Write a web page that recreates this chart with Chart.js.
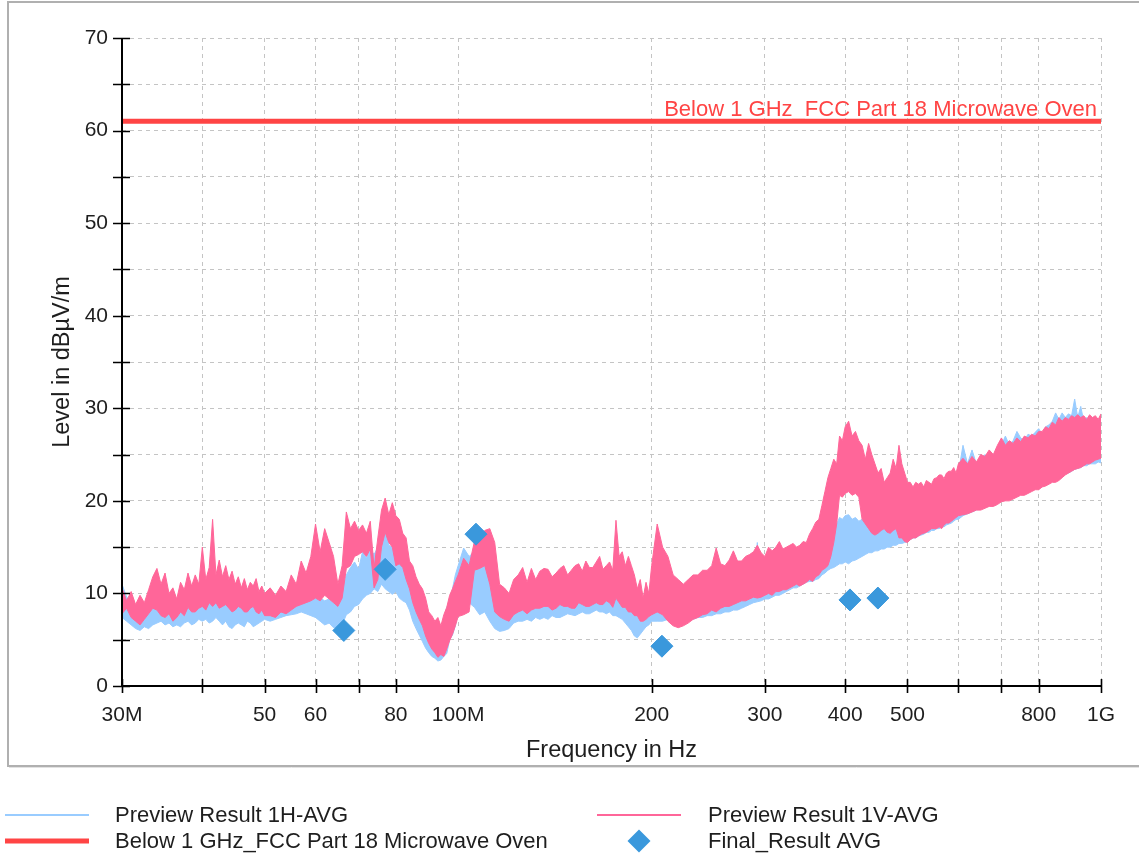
<!DOCTYPE html>
<html>
<head>
<meta charset="utf-8">
<title>Level in dBµV/m</title>
<script src="https://cdn.jsdelivr.net/npm/chart.js@4.4.1/dist/chart.umd.min.js"></script>
<style>
    html, body { margin: 0; padding: 0; background: #fff; }
    #chart { display: block; }
</style>
</head>
<body>
<canvas id="chart" width="1139" height="856"></canvas>
<script>
/* ============================================
   DATA
   ============================================ */

// sweep frequencies in MHz (shared by both preview traces)
const freqMHz = [
    30, 30.5, 31, 31.5, 32, 32.5, 33, 33.5, 34, 34.5, 35, 35.5, 36, 36.5, 37, 37.5, 38, 38.5, 39, 39.5,
    40, 40.5, 41, 41.5, 42, 42.5, 43, 43.5, 44, 44.5, 45, 45.5, 46, 46.5, 47, 47.5, 48, 48.5, 49, 49.5, 50,
    51, 52, 53, 54, 55, 56, 57, 58, 59, 60, 61, 62, 63, 64, 65, 66, 67, 68, 69, 70,
    71, 72, 73, 74, 75, 76, 77, 78, 79, 80, 81, 82, 83, 84, 85, 86, 87, 88, 89, 90,
    91, 92, 93, 94, 95, 96, 97, 98, 99, 100,
    102, 104, 106, 108, 110, 112, 114, 116, 118, 120, 122, 124, 126, 128, 130, 132, 134, 136, 138, 140,
    142, 144, 146, 148, 150, 152, 154, 156, 158, 160, 162, 164, 166, 168, 170, 172, 174, 176, 178, 180,
    182, 184, 186, 188, 190, 192, 194, 196, 198, 200,
    204, 208, 212, 216, 220, 224, 228, 232, 236, 240, 244, 248, 252, 256, 260, 264, 268, 272, 276, 280,
    284, 288, 292, 296, 300, 304, 308, 312, 316, 320, 324, 328, 332, 336, 340, 344, 348, 352, 356, 360,
    364, 368, 372, 376, 380, 384, 388, 392, 396, 400,
    405, 410, 415, 420, 425, 430, 435, 440, 445, 450, 455, 460, 465, 470, 475, 480, 485, 490, 495, 500,
    505, 510, 515, 520, 525, 530, 535, 540, 545, 550, 555, 560, 565, 570, 575, 580, 585, 590, 595, 600,
    610, 620, 630, 640, 650, 660, 670, 680, 690, 700, 710, 720, 730, 740, 750, 760, 770, 780, 790, 800,
    810, 820, 830, 840, 850, 860, 870, 880, 890, 900, 910, 920, 930, 940, 950, 960, 970, 980, 990, 1000
];

// Preview Result 1H-AVG, upper / lower edge of the noise band (dBµV/m)
const level1HHigh = [
    11.0, 9.6, 9.2, 8.6, 8.8, 8.4, 9.0, 9.4, 9.8, 9.2, 9.6, 9.0, 9.0, 9.4, 9.8, 10.2, 10.4, 9.8, 10.0, 9.6,
    10.6, 10.0, 10.4, 9.8, 10.6, 10.0, 10.2, 9.6, 9.8, 9.4, 9.6, 9.8, 9.2, 9.6, 9.4, 9.0, 9.2, 8.8, 9.2, 9.0, 8.8,
    9.1, 8.8, 9.0, 9.2, 9.6, 10.2, 10.6, 10.0, 10.4, 9.8, 9.5, 9.2, 9.4, 9.0, 9.2, 10.5, 12.0, 12.8, 13.4, 12.6,
    14.5, 13.8, 14.8, 14.2, 15.0, 14.6, 17.7, 15.2, 15.0, 14.1, 14.0, 13.2, 13.0, 12.0, 11.5, 10.5, 9.5, 8.5, 8.0, 7.0,
    6.5, 6.0, 5.5, 5.8, 7.0, 8.5, 9.0, 10.5, 12.0, 13.0,
    14.9, 14.0, 14.5, 13.8, 14.1, 13.0, 12.0, 9.5, 9.0, 8.8, 9.2, 9.0, 9.4, 9.6, 9.9, 9.4, 9.6, 9.8, 9.4, 9.9,
    9.8, 10.0, 9.6, 10.2, 10.6, 10.0, 10.2, 10.6, 10.4, 10.0, 10.2, 10.6, 10.4, 10.2, 10.6, 10.4, 10.2, 10.8, 10.6, 11.0,
    11.3, 10.5, 10.8, 9.5, 9.0, 9.4, 9.0, 9.6, 10.0, 11.0,
    12.7, 11.5, 12.4, 10.0, 9.6, 9.4, 9.2, 9.4, 9.6, 9.9, 9.6, 9.8, 10.0, 9.8, 10.0, 10.2, 10.4, 10.2, 10.5, 10.8,
    10.8, 11.0, 15.5, 11.0, 11.3, 11.2, 11.2, 11.5, 11.8, 11.6, 12.0, 12.2, 12.2, 12.4, 12.4, 12.6, 12.7, 13.0, 13.0, 13.4,
    13.4, 14.5, 15.5, 16.0, 16.5, 17.5, 17.5, 18.2, 18.0, 18.4,
    18.5, 18.0, 18.2, 17.8, 18.0, 17.6, 18.5, 18.0, 17.8, 18.0, 18.2, 18.0, 18.4, 18.0, 18.5, 18.2, 18.6, 18.0, 19.0, 19.5,
    19.8, 20.0, 20.5, 20.6, 21.0, 20.8, 21.0, 20.8, 21.2, 21.5, 21.5, 21.6, 22.0, 22.0, 22.2, 22.2, 22.4, 22.5, 22.8, 23.0,
    26.0, 24.0, 25.5, 24.0, 24.5, 25.0, 24.5, 25.0, 25.5, 26.0, 27.0, 26.0, 26.5, 27.5, 26.8, 26.5, 27.2, 27.0, 27.4, 27.8,
    27.2, 28.0, 28.2, 28.6, 29.5, 28.8, 29.5, 29.0, 29.4, 29.2, 31.0, 29.0, 30.2, 28.6, 29.0, 28.5, 29.0, 28.5, 28.8, 28.0
];
const level1HLow = [
    7.4, 7.0, 6.6, 6.2, 6.0, 6.4, 6.2, 6.6, 6.8, 7.0, 6.6, 6.8, 6.4, 6.6, 6.4, 6.8, 7.0, 6.6, 6.8, 7.2,
    7.0, 7.2, 6.8, 7.0, 7.4, 7.0, 6.6, 7.0, 6.4, 6.2, 6.6, 6.8, 6.6, 6.4, 7.0, 6.8, 6.4, 6.6, 6.8, 7.0, 7.2,
    7.0, 7.2, 7.4, 7.6, 7.7, 7.8, 8.0, 7.8, 7.6, 7.4, 7.0, 6.6, 6.8, 6.3, 6.4, 6.6, 7.7, 8.0, 8.6, 8.8,
    9.4, 9.8, 10.0, 10.5, 10.2, 11.0, 10.5, 10.2, 9.9, 10.2, 9.5, 9.2, 9.0, 8.2, 7.0, 6.2, 5.5, 4.8, 4.1, 3.6,
    3.2, 3.0, 2.7, 2.8, 3.2, 3.5, 5.0, 5.5, 6.5, 8.0,
    8.4, 9.0, 8.5, 7.7, 8.0, 7.0, 6.2, 5.9, 6.0, 6.2, 6.8, 7.0, 7.0, 7.2, 7.0, 7.4, 7.2, 7.4, 7.2, 7.6,
    7.4, 7.4, 7.6, 7.8, 7.7, 7.6, 7.8, 8.0, 7.8, 7.8, 8.0, 8.2, 8.0, 8.0, 7.8, 8.0, 7.6, 7.6, 7.4, 7.2,
    6.8, 6.4, 6.0, 5.4, 5.2, 5.6, 6.0, 6.4, 6.6, 7.0,
    7.0, 7.0, 7.2, 7.0, 7.0, 7.0, 7.2, 7.2, 7.4, 7.4, 7.6, 7.6, 7.8, 7.8, 8.0, 8.0, 8.2, 8.2, 8.4, 8.6,
    8.8, 9.0, 9.1, 9.2, 9.4, 9.4, 9.6, 9.8, 9.8, 10.0, 10.2, 10.4, 10.6, 10.6, 10.8, 11.0, 11.2, 11.3, 11.3, 11.5,
    11.6, 12.0, 12.2, 12.5, 12.7, 12.8, 13.0, 13.2, 13.2, 13.4,
    13.2, 13.5, 13.6, 13.8, 14.0, 14.2, 14.4, 14.4, 14.6, 14.6, 14.8, 14.8, 15.0, 15.0, 15.2, 15.2, 15.4, 15.4, 15.5, 15.6,
    15.8, 16.0, 16.0, 16.2, 16.3, 16.4, 16.6, 16.6, 16.8, 16.8, 17.0, 17.0, 17.2, 17.2, 17.4, 17.5, 17.6, 17.8, 18.0, 18.0,
    18.4, 18.6, 18.8, 19.0, 19.2, 19.4, 19.5, 19.6, 19.8, 20.0, 20.2, 20.3, 20.4, 20.6, 21.0, 21.0, 21.2, 21.2, 21.4, 21.5,
    21.6, 22.0, 22.0, 22.3, 22.4, 22.5, 22.8, 23.0, 23.0, 23.2, 23.4, 23.5, 23.6, 23.8, 23.8, 24.0, 24.0, 24.0, 24.2, 24.1
];

// Preview Result 1V-AVG, upper / lower edge of the noise band (dBµV/m)
const level1VHigh = [
    10.6, 9.2, 10.2, 8.8, 9.8, 9.0, 10.4, 11.8, 12.7, 11.0, 12.2, 10.0, 10.6, 9.4, 11.2, 10.4, 12.2, 10.8, 12.0, 11.0,
    15.0, 11.5, 12.8, 18.0, 12.0, 13.6, 11.8, 13.0, 11.5, 12.4, 11.0, 11.8, 10.6, 11.6, 10.4, 11.2, 10.8, 11.6, 10.2, 10.8, 10.0,
    10.6, 9.8, 10.8, 10.2, 12.0, 11.0, 13.5, 12.2, 14.0, 17.5, 14.5, 17.0, 15.5, 14.0, 11.0, 13.0, 18.8, 17.0, 17.8, 16.8,
    17.4, 16.5, 17.8, 12.7, 16.0, 19.0, 20.3, 18.5, 19.8, 18.4, 18.0, 16.5, 16.0, 13.5, 13.0, 11.8, 11.0, 10.5, 9.5, 8.0,
    7.6, 7.0, 7.4, 6.5, 7.7, 8.5, 9.8, 10.5, 11.3, 12.0,
    13.8, 13.0, 15.6, 16.0, 16.8, 17.0, 15.5, 11.0, 10.6, 10.0, 11.5, 12.0, 12.8, 11.2, 12.7, 11.5, 12.4, 12.7, 12.6, 11.8,
    12.2, 12.7, 13.0, 12.0, 12.5, 13.0, 13.2, 12.4, 13.5, 12.8, 12.8, 13.4, 14.0, 12.6, 13.0, 13.4, 12.5, 17.9, 14.0, 14.5,
    13.0, 14.0, 13.0, 12.0, 10.5, 11.5, 9.5, 11.2, 10.0, 13.0,
    17.5, 15.0, 14.0, 12.0, 11.5, 11.0, 11.5, 12.0, 12.0, 12.5, 12.5, 13.0, 14.9, 13.2, 13.0, 13.6, 14.6, 13.5, 13.5, 14.0,
    14.2, 14.5, 15.2, 14.4, 14.0, 15.0, 14.6, 15.0, 15.6, 14.8, 15.0, 15.2, 15.4, 15.0, 15.2, 15.6, 15.5, 16.4, 17.0, 17.7,
    18.0, 19.5, 21.0, 22.5, 23.5, 24.5, 24.0, 27.0, 26.5, 28.0,
    28.6, 27.0, 27.5, 26.5, 26.0, 24.5, 26.2, 25.0, 24.0, 23.0, 23.5, 22.0, 22.5, 23.0, 24.5, 23.5, 26.0, 24.0, 23.0, 22.0,
    22.0, 21.5, 22.0, 21.8, 22.0, 21.5, 22.2, 22.0, 21.8, 22.4, 22.5, 22.8, 22.8, 22.4, 23.0, 23.2, 23.2, 23.6, 23.0, 24.0,
    24.6, 24.0, 24.8, 24.2, 25.0, 24.8, 25.5, 25.0, 26.0, 26.8, 26.0, 26.5, 26.2, 26.8, 26.4, 27.0, 26.8, 27.2, 27.0, 27.5,
    27.5, 28.0, 27.8, 28.5, 28.2, 29.0, 28.6, 29.0, 28.8, 29.2, 29.0, 29.3, 29.0, 29.2, 28.8, 29.3, 29.0, 29.2, 28.8, 29.4
];
const level1VLow = [
    7.8, 8.4, 7.4, 7.0, 6.6, 7.2, 7.8, 8.4, 8.2, 7.6, 7.4, 7.8, 7.0, 7.4, 8.0, 7.6, 8.5, 8.0, 8.0, 8.4,
    8.6, 8.2, 9.0, 8.6, 9.0, 8.4, 8.6, 8.8, 8.4, 8.0, 8.2, 8.6, 8.4, 8.0, 8.0, 8.4, 8.6, 8.0, 7.8, 8.2, 7.6,
    7.6, 7.4, 8.0, 7.8, 8.2, 8.6, 8.8, 9.0, 9.2, 9.5, 9.2, 9.8, 9.4, 9.0, 8.6, 9.5, 12.7, 13.0, 14.0, 14.2,
    14.5, 14.0, 14.8, 10.6, 11.5, 15.0, 16.6, 15.5, 15.0, 13.0, 13.2, 12.8, 11.5, 10.5, 9.0, 8.0, 7.2, 6.5, 5.4, 4.6,
    4.0, 3.6, 3.1, 3.4, 3.2, 4.0, 4.9, 5.6, 6.5, 7.5,
    7.7, 8.0, 12.5, 12.7, 13.0, 11.0, 8.0, 7.5, 7.2, 7.0, 7.7, 8.0, 8.2, 7.8, 8.2, 8.4, 8.4, 8.6, 8.6, 8.2,
    8.4, 8.8, 8.6, 8.6, 8.4, 8.4, 9.0, 8.8, 8.6, 8.6, 8.8, 9.0, 8.8, 8.8, 9.2, 9.0, 8.5, 9.5, 9.0, 8.5,
    8.5, 8.0, 8.0, 7.6, 7.6, 7.0, 7.0, 7.2, 7.5, 7.7,
    8.0, 7.7, 7.0, 6.5, 6.3, 6.5, 6.8, 7.2, 7.4, 7.7, 7.8, 8.2, 8.0, 8.4, 8.6, 8.6, 8.8, 9.0, 9.2, 9.2,
    9.4, 9.6, 9.5, 9.6, 9.8, 10.0, 9.8, 10.2, 10.2, 10.4, 10.4, 10.6, 10.8, 11.0, 10.8, 11.0, 11.2, 11.5, 11.3, 11.8,
    12.0, 12.5, 12.7, 13.0, 14.0, 15.5, 17.5, 20.6, 20.4, 20.8,
    21.0, 20.6, 20.8, 20.4, 18.0, 17.5, 17.0, 16.5, 16.3, 16.5, 16.8, 17.0, 16.6, 16.5, 16.8, 17.0, 16.0, 16.0, 15.6, 15.5,
    15.8, 16.0, 16.0, 16.2, 16.4, 16.5, 16.6, 16.8, 17.0, 17.0, 17.0, 17.2, 17.0, 17.4, 17.6, 17.6, 17.8, 18.0, 18.2, 18.4,
    18.5, 18.6, 18.8, 19.0, 19.0, 19.2, 19.4, 19.4, 19.6, 19.9, 20.0, 20.0, 20.2, 20.4, 20.6, 20.6, 20.8, 21.0, 21.2, 21.2,
    21.5, 21.6, 21.8, 22.0, 22.0, 22.2, 22.5, 22.8, 23.0, 23.2, 23.4, 23.5, 23.6, 23.8, 24.0, 24.0, 24.2, 24.4, 24.5, 24.6
];

// limit line
const limitFreqMHz = [30, 1000];
const limitLevel = [61, 61];
const limitLabel = 'Below 1 GHz_FCC Part 18 Microwave Oven';

// final measurements (diamonds)
const finalFreqMHz = [66.4, 77.0, 106.6, 207.5, 406.9, 449.7];
const finalLevel = [6.0, 12.6, 16.4, 4.3, 9.3, 9.5];

// axis ticks
const xTickValues = [30, 40, 50, 60, 70, 80, 100, 200, 300, 400, 500, 600, 700, 800, 1000];
const xTickLabels = ['30M', '', '50', '60', '', '80', '100M', '200', '300', '400', '500', '', '', '800', '1G'];
const yMin = 0, yMax = 70, yStep = 5;

const COLORS = {
    h: '#99ccff',
    v: '#ff6699',
    limit: '#ff4444',
    final: '#3a98dc',
    grid: '#c4c4c4',
    text: '#1e1e1e'
};

const FONT = "'Liberation Sans', Arial, sans-serif";

function toPoints(xs, ys) {
    return xs.map((x, i) => ({ x: x, y: ys[i] }));
}

// ============================================
// PLUGINS
// ============================================

// grey frame around the plot + white background
const framePlugin = {
    id: 'frame',
    beforeDraw(chart) {
        const ctx = chart.ctx;
        ctx.save();
        ctx.fillStyle = '#fff';
        ctx.fillRect(0, 0, chart.width, chart.height);
        ctx.strokeStyle = '#b0b0b0';
        ctx.lineWidth = 2;
        ctx.strokeRect(8, 2, chart.width + 10, 764);
        ctx.strokeStyle = '#e2e2e2';
        ctx.lineWidth = 1;
        ctx.beginPath();
        ctx.moveTo(9, 767.5);
        ctx.lineTo(chart.width, 767.5);
        ctx.stroke();
        ctx.restore();
    }
};

// tick marks that cross the axis lines, like the EMC software draws them
const crossTicksPlugin = {
    id: 'crossTicks',
    afterDatasetsDraw(chart) {
        const { ctx, chartArea, scales } = chart;
        ctx.save();
        ctx.strokeStyle = '#000';
        ctx.lineWidth = 1.6;
        ctx.beginPath();
        scales.y.ticks.forEach(t => {
            const y = Math.round(scales.y.getPixelForValue(t.value)) + 0.5;
            ctx.moveTo(chartArea.left - 9, y);
            ctx.lineTo(chartArea.left + 8, y);
        });
        scales.x.ticks.forEach(t => {
            const x = Math.round(scales.x.getPixelForValue(t.value)) + 0.5;
            ctx.moveTo(x, chartArea.bottom - 7);
            ctx.lineTo(x, chartArea.bottom + 7);
        });
        ctx.stroke();
        ctx.lineWidth = 2;
        ctx.beginPath();
        ctx.moveTo(chartArea.left, chartArea.top);
        ctx.lineTo(chartArea.left, chartArea.bottom);
        ctx.lineTo(chartArea.right, chartArea.bottom);
        ctx.stroke();
        ctx.restore();
    }
};

// name of the limit line written above it (the line hides the underscore)
const limitLabelPlugin = {
    id: 'limitLabel',
    beforeDatasetsDraw(chart) {
        const { ctx, chartArea, scales } = chart;
        const y = scales.y.getPixelForValue(limitLevel[0]);
        ctx.save();
        ctx.font = '22px ' + FONT;
        ctx.fillStyle = COLORS.limit;
        ctx.textAlign = 'right';
        ctx.textBaseline = 'alphabetic';
        ctx.fillText(limitLabel, chartArea.right - 4, y - 5);
        ctx.restore();
    }
};

// legend below the frame, two columns
const legendItems = [
    { label: 'Preview Result 1H-AVG', color: COLORS.h, kind: 'line', width: 2, col: 0, row: 0 },
    { label: 'Preview Result 1V-AVG', color: COLORS.v, kind: 'line', width: 2, col: 1, row: 0 },
    { label: limitLabel, color: COLORS.limit, kind: 'line', width: 5, col: 0, row: 1 },
    { label: 'Final_Result AVG', color: COLORS.final, kind: 'diamond', col: 1, row: 1 }
];
const legendCols = [{ line: 5, text: 115 }, { line: 597, text: 708 }];
const legendRows = [815, 841];

const bottomLegendPlugin = {
    id: 'bottomLegend',
    afterDraw(chart) {
        const ctx = chart.ctx;
        ctx.save();
        ctx.font = '22px ' + FONT;
        ctx.textBaseline = 'middle';
        ctx.textAlign = 'left';
        legendItems.forEach(item => {
            const col = legendCols[item.col];
            const y = legendRows[item.row];
            if (item.kind === 'diamond') {
                const cx = col.line + 42, r = 11.5;
                ctx.fillStyle = item.color;
                ctx.beginPath();
                ctx.moveTo(cx - r, y);
                ctx.lineTo(cx, y - r);
                ctx.lineTo(cx + r, y);
                ctx.lineTo(cx, y + r);
                ctx.closePath();
                ctx.fill();
            } else {
                ctx.strokeStyle = item.color;
                ctx.lineWidth = item.width;
                ctx.beginPath();
                ctx.moveTo(col.line, y);
                ctx.lineTo(col.line + 84, y);
                ctx.stroke();
            }
            ctx.fillStyle = COLORS.text;
            ctx.fillText(item.label, col.text, y + 1);
        });
        ctx.restore();
    }
};

// ============================================
// CHART
// ============================================

function bandEdge(label, levels, color, order, fill) {
    return {
        label: label,
        data: toPoints(freqMHz, levels),
        borderColor: color,
        backgroundColor: color,
        borderWidth: 1,
        borderJoinStyle: 'bevel',
        pointRadius: 0,
        fill: fill,
        order: order
    };
}

function renderChart() {
    const ctx = document.getElementById('chart');

    new Chart(ctx, {
        type: 'line',
        data: {
            datasets: [
                bandEdge('Preview Result 1H-AVG', level1HHigh, COLORS.h, 5, false),
                bandEdge('Preview Result 1H-AVG', level1HLow, COLORS.h, 4, '-1'),
                bandEdge('Preview Result 1V-AVG', level1VHigh, COLORS.v, 3, false),
                bandEdge('Preview Result 1V-AVG', level1VLow, COLORS.v, 2, '-1'),
                {
                    label: limitLabel,
                    data: toPoints(limitFreqMHz, limitLevel),
                    borderColor: COLORS.limit,
                    borderWidth: 5,
                    pointRadius: 0,
                    order: 1
                },
                {
                    label: 'Final_Result AVG',
                    data: toPoints(finalFreqMHz, finalLevel),
                    showLine: false,
                    pointStyle: 'rectRot',
                    pointRadius: 11,
                    borderWidth: 1,
                    backgroundColor: COLORS.final,
                    borderColor: COLORS.final,
                    order: 0
                }
            ]
        },
        options: {
            responsive: false,
            animation: false,
            devicePixelRatio: 1,
            layout: { padding: { left: 0, right: 38, top: 38, bottom: 0 } },
            plugins: {
                legend: { display: false },
                tooltip: { enabled: false },
                filler: { propagate: false }
            },
            scales: {
                x: {
                    type: 'logarithmic',
                    min: 30,
                    max: 1000,
                    afterBuildTicks: scale => {
                        scale.ticks = xTickValues.map(v => ({ value: v }));
                    },
                    afterFit: scale => { scale.height = 170; },
                    ticks: {
                        autoSkip: false,
                        maxRotation: 0,
                        padding: 17,
                        color: COLORS.text,
                        font: { family: FONT, size: 21 },
                        callback: (value, index) => xTickLabels[index]
                    },
                    grid: {
                        color: COLORS.grid,
                        lineWidth: 1,
                        drawTicks: false
                    },
                    border: { display: false, dash: [4, 4] },
                    title: {
                        display: true,
                        text: 'Frequency in Hz',
                        color: COLORS.text,
                        font: { family: FONT, size: 23.5 },
                        padding: { top: 0, bottom: 91 }
                    }
                },
                y: {
                    min: yMin,
                    max: yMax,
                    afterFit: scale => { scale.width = 122; },
                    ticks: {
                        stepSize: yStep,
                        padding: 14,
                        color: COLORS.text,
                        font: { family: FONT, size: 21 },
                        callback: value => (value % 10 === 0 ? value : '')
                    },
                    grid: {
                        color: COLORS.grid,
                        lineWidth: 1,
                        drawTicks: false
                    },
                    border: { display: false, dash: [4, 4] },
                    title: {
                        display: true,
                        text: 'Level in dBµV/m',
                        color: COLORS.text,
                        font: { family: FONT, size: 23.5 },
                        padding: { top: 48, bottom: 0 }
                    }
                }
            }
        },
        plugins: [framePlugin, crossTicksPlugin, limitLabelPlugin, bottomLegendPlugin]
    });
}

renderChart();
</script>
</body>
</html>
